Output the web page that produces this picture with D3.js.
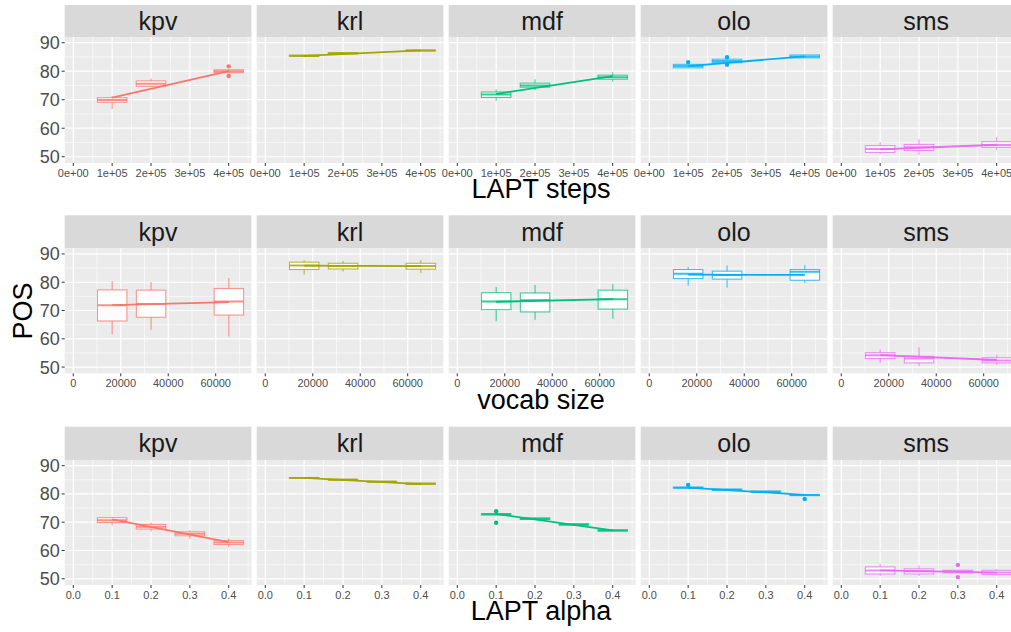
<!DOCTYPE html>
<html><head><meta charset="utf-8">
<script src="https://cdn.jsdelivr.net/npm/d3@7"></script>
<style>body{margin:0;background:#fff}svg{display:block;font-family:"Liberation Sans",Arial,sans-serif}</style>
</head><body><svg id="c" width="1011" height="632"></svg>
<script>
// ---------- DATA ----------
const langs = ["kpv","krl","mdf","olo","sms"];
const langColors = ["#F8766D","#A3A500","#00BF7D","#00B0F6","#E76BF3"];
const yTicks = [50,60,70,80,90];

// Row 1: LAPT steps
const stepsX = [100000, 200000, 400000];
const stepsTicks = [0, 100000, 200000, 300000, 400000];
const stepsTickLabels = ["0e+00","1e+05","2e+05","3e+05","4e+05"];
// each box: [lower whisker, q1, median, q3, upper whisker]
const stepsKpv = [[66.7,69.1,69.9,70.7,71.4],[74.4,74.7,75.6,76.6,77.4],[79.3,79.5,80.0,80.5,80.7]];
const stepsKrl = [[85.0,85.2,85.4,85.6,85.8],[86.0,86.1,86.3,86.5,86.6],[87.0,87.1,87.3,87.4,87.5]];
const stepsMdf = [[69.6,70.8,71.8,72.7,73.6],[73.4,74.4,75.0,75.8,77.2],[76.3,77.2,77.9,78.6,79.6]];
const stepsOlo = [[81.0,81.2,81.8,82.4,82.6],[82.6,83.0,83.6,84.2,84.6],[84.6,84.7,85.2,85.7,85.8]];
const stepsSms = [[50.9,51.5,52.7,53.9,55.2],[50.6,52.2,53.3,54.3,56.1],[52.4,53.3,54.1,55.3,56.9]];
// outliers: [x, y]
const stepsOutKpv = [[400000,81.7],[400000,78.3]];
const stepsOutOlo = [[100000,83.2],[200000,84.9],[200000,82.3]];
// linear trend: value at first and last x
const stepsTrend = [[70.7,80.0],[85.4,87.3],[72.0,78.3],[81.8,85.2],[52.6,54.2]];

// Row 2: vocab size
const vocabX = [16384, 32768, 65536];
const vocabTicks = [0, 20000, 40000, 60000];
const vocabTickLabels = ["0","20000","40000","60000"];
const vocabKpv = [[61.6,66.3,71.9,77.3,80.4],[63.2,67.6,72.3,77.2,80.1],[60.8,68.4,73.2,77.8,81.5]];
const vocabKrl = [[82.7,84.5,85.9,87.1,87.8],[83.8,84.7,85.7,86.7,87.5],[83.3,84.6,85.7,86.7,87.8]];
const vocabMdf = [[66.2,70.3,73.2,76.3,78.3],[66.7,69.5,73.6,76.2,79.0],[67.1,70.5,74.0,77.2,79.4]];
const vocabOlo = [[78.8,81.3,83.0,84.5,85.4],[78.1,81.1,82.6,83.9,85.9],[79.7,80.7,83.7,84.5,86.0]];
const vocabSms = [[51.5,53.0,54.2,55.1,56.2],[50.5,51.5,53.0,53.8,56.9],[50.8,51.5,52.3,53.3,54.3]];
const vocabTrend = [[71.9,73.0],[85.9,85.7],[73.1,74.0],[82.7,82.6],[54.2,52.5]];

// Row 3: LAPT alpha
const alphaX = [0.1, 0.2, 0.3, 0.4];
const alphaTicks = [0, 0.1, 0.2, 0.3, 0.4];
const alphaTickLabels = ["0.0","0.1","0.2","0.3","0.4"];
const alphaKpv = [[68.8,69.9,70.7,71.6,71.9],[66.7,67.6,68.4,69.2,69.9],[64.1,65.2,65.9,66.6,67.2],[61.1,62.1,62.8,63.5,64.3]];
const alphaKrl = [[85.4,85.5,85.6,85.8,85.9],[84.8,84.9,85.0,85.2,85.3],[84.1,84.2,84.3,84.5,84.6],[83.1,83.4,83.6,83.8,84.0]];
const alphaMdf = [[72.5,72.6,72.8,73.0,73.2],[70.8,71.0,71.2,71.5,71.7],[68.8,69.0,69.2,69.4,69.6],[66.8,66.9,67.1,67.3,67.5]];
const alphaOlo = [[82.0,82.1,82.2,82.4,82.5],[81.2,81.3,81.5,81.7,81.8],[80.5,80.6,80.8,81.0,81.1],[79.3,79.4,79.6,79.8,80.0]];
const alphaSms = [[51.0,51.7,52.9,54.2,55.3],[51.0,51.7,52.7,53.5,54.7],[52.0,52.1,52.6,53.0,53.2],[51.2,51.5,52.2,53.0,53.5]];
const alphaOutMdf = [[0.1,73.9],[0.1,69.8]];
const alphaOutOlo = [[0.1,83.2],[0.4,78.2]];
const alphaOutSms = [[0.3,54.9],[0.3,50.6]];
const alphaTrend = [[71.0,63.0],[85.7,83.5],[72.9,67.1],[82.2,79.7],[53.0,52.2]];

// ---------- LAYOUT ----------
const rowsCfg = [
  {xs: stepsX, boxes: [stepsKpv,stepsKrl,stepsMdf,stepsOlo,stepsSms], outs: [stepsOutKpv,[],[],stepsOutOlo,[]],
   trend: stepsTrend, ticks: stepsTicks, tickLabels: stepsTickLabels, minor: [50000,150000,250000,350000,450000],
   domain: [-22140, 458400], bw: 76000, title: "LAPT steps", stripTop: 5, top: 37, bottom: 163, titleY: 198},
  {xs: vocabX, boxes: [vocabKpv,vocabKrl,vocabMdf,vocabOlo,vocabSms], outs: [[],[],[],[],[]],
   trend: vocabTrend, ticks: vocabTicks, tickLabels: vocabTickLabels, minor: [10000,30000,50000,70000],
   domain: [-3620, 75040], bw: 12400, title: "vocab size", stripTop: 215.3, top: 248.3, bottom: 373.3, titleY: 409},
  {xs: alphaX, boxes: [alphaKpv,alphaKrl,alphaMdf,alphaOlo,alphaSms], outs: [[],[],alphaOutMdf,alphaOutOlo,alphaOutSms],
   trend: alphaTrend, ticks: alphaTicks, tickLabels: alphaTickLabels, minor: [0.05,0.15,0.25,0.35,0.45],
   domain: [-0.02214, 0.4584], bw: 0.076, title: "LAPT alpha", stripTop: 426.7, top: 460, bottom: 585, titleY: 620}
];
const left0 = 64.7, panelW = 186.7, gapW = 5.3;
const yDomain = [47.8, 92.0];
const yMinor = [55,65,75,85];

const svg = d3.select("#c");

rowsCfg.forEach((row, ri) => {
  const y = d3.scaleLinear().domain(yDomain).range([row.bottom, row.top]);
  langs.forEach((lang, li) => {
    const px = left0 + li * (panelW + gapW);
    const x = d3.scaleLinear().domain(row.domain).range([px, px + panelW]);
    const col = langColors[li];
    const g = svg.append("g");
    // strip
    g.append("rect").attr("x", px).attr("y", row.stripTop).attr("width", panelW).attr("height", row.top - row.stripTop).attr("fill", "#D9D9D9");
    g.append("text").attr("x", px + panelW/2).attr("y", (row.stripTop + row.top)/2).attr("dy", "0.36em")
      .attr("text-anchor", "middle").attr("font-size", 25).attr("fill", "#1A1A1A").text(lang);
    // panel bg
    g.append("rect").attr("x", px).attr("y", row.top).attr("width", panelW).attr("height", row.bottom - row.top).attr("fill", "#EBEBEB");
    // minor grid
    yMinor.forEach(v => g.append("line").attr("x1", px).attr("x2", px + panelW).attr("y1", y(v)).attr("y2", y(v)).attr("stroke", "#fff").attr("stroke-width", 0.6));
    row.minor.forEach(v => g.append("line").attr("x1", x(v)).attr("x2", x(v)).attr("y1", row.top).attr("y2", row.bottom).attr("stroke", "#fff").attr("stroke-width", 0.6));
    // major grid
    yTicks.forEach(v => g.append("line").attr("x1", px).attr("x2", px + panelW).attr("y1", y(v)).attr("y2", y(v)).attr("stroke", "#fff").attr("stroke-width", 1.2));
    row.ticks.forEach(v => g.append("line").attr("x1", x(v)).attr("x2", x(v)).attr("y1", row.top).attr("y2", row.bottom).attr("stroke", "#fff").attr("stroke-width", 1.2));

    // boxes
    const clip = "clip" + ri + "_" + li;
    svg.append("clipPath").attr("id", clip).append("rect").attr("x", px).attr("y", row.top).attr("width", panelW).attr("height", row.bottom - row.top);
    const mg = g.append("g").attr("clip-path", "url(#" + clip + ")");
    row.boxes[li].forEach((b, bi) => {
      const xv = row.xs[bi];
      const cx = x(xv), x0 = x(xv - row.bw/2), x1 = x(xv + row.bw/2);
      mg.append("line").attr("x1", cx).attr("x2", cx).attr("y1", y(b[0])).attr("y2", y(b[1])).attr("stroke", col).attr("stroke-opacity", 0.75).attr("stroke-width", 1.1);
      mg.append("line").attr("x1", cx).attr("x2", cx).attr("y1", y(b[3])).attr("y2", y(b[4])).attr("stroke", col).attr("stroke-opacity", 0.75).attr("stroke-width", 1.1);
      mg.append("rect").attr("x", x0).attr("y", y(b[3])).attr("width", x1 - x0).attr("height", Math.max(0.1, y(b[1]) - y(b[3])))
        .attr("fill", "#fff").attr("fill-opacity", 0.9).attr("stroke", col).attr("stroke-opacity", 0.75).attr("stroke-width", 1.1);
      mg.append("line").attr("x1", x0).attr("x2", x1).attr("y1", y(b[2])).attr("y2", y(b[2])).attr("stroke", col).attr("stroke-opacity", 0.8).attr("stroke-width", 2);
    });
    row.outs[li].forEach(o => mg.append("circle").attr("cx", x(o[0])).attr("cy", y(o[1])).attr("r", 2.2).attr("fill", col));
    // trend line
    const t = row.trend[li];
    mg.append("line").attr("x1", x(row.xs[0])).attr("x2", x(row.xs[row.xs.length-1]))
      .attr("y1", y(t[0])).attr("y2", y(t[1])).attr("stroke", col).attr("stroke-width", 1.8);

    // x axis ticks
    row.ticks.forEach((v, ti) => {
      g.append("line").attr("x1", x(v)).attr("x2", x(v)).attr("y1", row.bottom).attr("y2", row.bottom + 3).attr("stroke", "#333").attr("stroke-width", 1);
      g.append("text").attr("x", x(v)).attr("y", row.bottom + 13.5).attr("text-anchor", "middle").attr("font-size", 11).attr("fill", "#4D4D4D").text(row.tickLabels[ti]);
    });
    // y axis on first column
    if (li === 0) {
      yTicks.forEach(v => {
        g.append("line").attr("x1", px - 3).attr("x2", px).attr("y1", y(v)).attr("y2", y(v)).attr("stroke", "#333").attr("stroke-width", 1);
        g.append("text").attr("x", px - 5).attr("y", y(v)).attr("dy", "0.36em").attr("text-anchor", "end").attr("font-size", 18).attr("fill", "#4D4D4D").text(v);
      });
    }
  });
  svg.append("text").attr("x", 541).attr("y", row.titleY).attr("text-anchor", "middle").attr("font-size", 27).attr("fill", "#000").text(row.title);
});
svg.append("text").attr("transform", "translate(31.5,311) rotate(-90)").attr("text-anchor", "middle").attr("font-size", 27).attr("fill", "#000").text("POS");
</script></body></html>
